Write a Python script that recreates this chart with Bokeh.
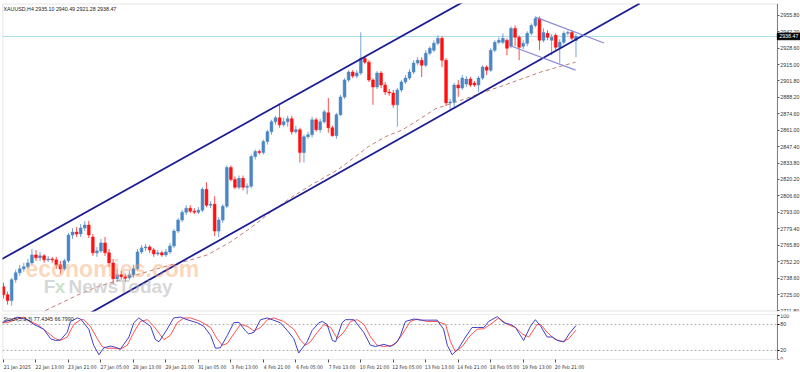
from bokeh.plotting import figure
from bokeh.layouts import column
from bokeh.models import Range1d, FixedTicker, Label, Span, PrintfTickFormatter, BoxAnnotation
from bokeh.core.properties import value
from bokeh.embed import file_html
from bokeh.resources import INLINE

# ---- XAUUSD H4 candles ----
opens = [2731.5, 2724.9, 2720.0, 2737.3, 2743.0, 2746.3, 2748.0, 2751.2, 2757.8, 2755.4,
         2757.0, 2753.7, 2754.5, 2753.7, 2749.6, 2746.3, 2752.9, 2774.2, 2776.7, 2775.1,
         2780.0, 2782.5, 2772.6, 2759.5, 2761.1, 2767.7, 2759.5, 2751.2, 2738.1, 2741.4,
         2739.7, 2738.9, 2741.4, 2746.3, 2760.3, 2763.6, 2764.4, 2761.9, 2758.6, 2759.5,
         2757.8, 2760.3, 2765.2, 2777.5, 2786.6, 2793.1, 2796.4, 2794.0, 2793.1, 2794.8,
         2812.0, 2798.9, 2799.7, 2777.5, 2786.6, 2798.1, 2830.1, 2820.2, 2813.7, 2821.1,
         2813.7, 2814.5, 2839.1, 2843.3, 2842.4, 2851.5, 2859.7, 2867.9, 2871.2, 2865.4,
         2867.9, 2870.4, 2859.7, 2861.3, 2842.4, 2855.6, 2857.2, 2869.5, 2861.3, 2867.9,
         2875.3, 2863.0, 2856.4, 2873.7, 2888.4, 2902.4, 2909.0, 2905.7, 2908.2, 2920.5,
         2917.2, 2902.4, 2896.7, 2908.2, 2898.3, 2892.5, 2891.7, 2881.9, 2894.2, 2900.8,
         2904.0, 2909.0, 2916.4, 2918.8, 2914.7, 2924.6, 2927.0, 2932.8, 2936.9, 2918.8,
         2883.5, 2884.3, 2898.3, 2895.8, 2899.1, 2903.2, 2899.9, 2898.3, 2904.0, 2913.1,
         2910.6, 2927.0, 2933.6, 2933.6, 2935.3, 2930.3, 2945.1, 2937.7, 2930.3, 2932.8,
         2941.0, 2947.6, 2953.3, 2935.3, 2941.0, 2935.3, 2939.4, 2929.5, 2933.6, 2941.0,
         2941.8, 2935.10]
highs = [2734.8, 2727.4, 2738.9, 2745.5, 2749.6, 2751.2, 2754.5, 2762.7, 2761.9, 2760.3,
         2758.6, 2757.0, 2756.2, 2756.2, 2752.9, 2754.5, 2775.9, 2780.0, 2780.8, 2783.3,
         2785.8, 2785.8, 2775.1, 2764.4, 2771.0, 2772.6, 2762.7, 2754.5, 2746.3, 2744.7,
         2742.2, 2744.7, 2749.6, 2762.7, 2766.0, 2766.9, 2766.0, 2763.6, 2761.9, 2761.1,
         2762.7, 2767.7, 2779.2, 2788.2, 2794.8, 2798.9, 2798.9, 2796.4, 2797.3, 2813.7,
         2817.8, 2802.2, 2806.3, 2789.0, 2799.7, 2831.8, 2831.8, 2822.7, 2823.5, 2823.5,
         2817.0, 2840.8, 2844.9, 2844.9, 2853.1, 2861.3, 2869.5, 2872.8, 2881.9, 2871.2,
         2872.8, 2872.8, 2864.6, 2863.0, 2857.2, 2859.7, 2872.0, 2871.2, 2870.4, 2877.8,
         2887.6, 2864.6, 2875.3, 2890.1, 2904.0, 2910.6, 2910.6, 2910.6, 2941.8, 2922.1,
         2918.8, 2904.0, 2909.8, 2909.8, 2900.8, 2895.0, 2894.2, 2895.8, 2902.4, 2906.5,
         2911.4, 2918.8, 2921.3, 2921.3, 2927.0, 2930.3, 2935.3, 2939.4, 2938.5, 2920.5,
         2886.8, 2899.9, 2902.4, 2906.5, 2905.7, 2904.9, 2901.6, 2905.7, 2914.7, 2914.7,
         2928.7, 2935.3, 2937.7, 2941.0, 2936.9, 2946.8, 2947.6, 2939.4, 2935.3, 2942.7,
         2949.2, 2955.0, 2955.0, 2945.1, 2943.5, 2940.2, 2941.0, 2936.1, 2942.7, 2943.5,
         2943.5, 2940.49]
lows = [2721.7, 2716.7, 2715.9, 2734.8, 2740.6, 2743.9, 2746.3, 2749.6, 2752.9, 2752.9,
        2751.2, 2752.1, 2751.2, 2746.3, 2742.2, 2744.7, 2751.2, 2771.0, 2772.6, 2772.6,
        2777.5, 2771.8, 2757.0, 2756.2, 2759.5, 2757.0, 2748.0, 2734.0, 2735.6, 2737.3,
        2735.6, 2737.3, 2738.9, 2744.7, 2758.6, 2761.1, 2759.5, 2756.2, 2757.0, 2756.2,
        2756.2, 2758.6, 2763.6, 2775.9, 2784.9, 2790.7, 2792.3, 2791.5, 2791.5, 2793.1,
        2797.3, 2796.4, 2773.4, 2772.6, 2784.1, 2796.4, 2818.6, 2812.0, 2812.0, 2811.2,
        2807.9, 2812.9, 2836.7, 2840.8, 2840.8, 2849.0, 2857.2, 2865.4, 2863.0, 2863.8,
        2863.8, 2857.2, 2858.0, 2834.2, 2834.2, 2853.9, 2854.8, 2859.7, 2858.9, 2866.3,
        2858.9, 2855.6, 2853.9, 2872.8, 2886.8, 2900.8, 2904.0, 2904.0, 2906.5, 2915.5,
        2900.8, 2881.9, 2895.0, 2895.8, 2890.1, 2889.3, 2879.4, 2863.8, 2892.5, 2899.1,
        2902.4, 2907.3, 2914.7, 2904.9, 2913.1, 2922.9, 2925.4, 2931.2, 2913.1, 2881.0,
        2877.8, 2879.4, 2888.4, 2894.2, 2896.7, 2896.7, 2896.7, 2892.5, 2902.4, 2906.5,
        2909.0, 2925.4, 2932.0, 2932.0, 2922.9, 2928.7, 2930.3, 2918.8, 2927.9, 2930.3,
        2939.4, 2945.9, 2927.0, 2933.6, 2935.3, 2922.9, 2927.0, 2916.4, 2932.0, 2939.4,
        2935.3, 2921.28]
closes = [2724.9, 2720.0, 2737.3, 2743.0, 2746.3, 2748.0, 2751.2, 2757.8, 2755.4, 2757.0,
          2753.7, 2754.5, 2753.7, 2749.6, 2746.3, 2752.9, 2774.2, 2776.7, 2775.1, 2780.0,
          2782.5, 2774.2, 2759.5, 2761.1, 2767.7, 2759.5, 2751.2, 2738.1, 2741.4, 2739.7,
          2738.9, 2741.4, 2746.3, 2760.3, 2763.6, 2764.4, 2761.9, 2758.6, 2759.5, 2757.8,
          2760.3, 2765.2, 2777.5, 2786.6, 2793.1, 2796.4, 2794.0, 2793.1, 2794.8, 2812.0,
          2798.9, 2799.7, 2777.5, 2786.6, 2798.1, 2830.1, 2820.2, 2813.7, 2821.1, 2813.7,
          2814.5, 2839.1, 2843.3, 2842.4, 2851.5, 2859.7, 2867.9, 2871.2, 2865.4, 2867.9,
          2870.4, 2859.7, 2861.3, 2842.4, 2855.6, 2857.2, 2869.5, 2861.3, 2867.9, 2876.1,
          2863.0, 2856.4, 2873.7, 2888.4, 2902.4, 2909.0, 2905.7, 2908.2, 2920.5, 2917.2,
          2902.4, 2896.7, 2908.2, 2898.3, 2892.5, 2891.7, 2881.9, 2894.2, 2900.8, 2904.0,
          2909.0, 2916.4, 2918.8, 2914.7, 2924.6, 2928.7, 2932.8, 2936.9, 2918.8, 2883.5,
          2884.3, 2898.3, 2895.8, 2904.0, 2903.2, 2898.3, 2898.3, 2904.0, 2913.1, 2910.6,
          2927.0, 2933.6, 2935.3, 2936.9, 2928.7, 2945.1, 2937.7, 2929.5, 2932.8, 2941.0,
          2947.6, 2953.3, 2935.3, 2941.8, 2937.7, 2937.7, 2929.5, 2933.6, 2941.0, 2941.8,
          2936.9, 2938.47]

# moving average (dashed), read points: bar index, price
ma_x = [10.3, 19.0, 23.2, 28.1, 32.0, 36.2, 40.4, 45.3, 50.2, 55.9, 60.8, 65.8, 70.2,
        75.6, 82.5, 89.9, 94.1, 98.3, 102.2, 106.4, 115.8, 124.1, 132.3, 136.5, 140.9]
ma_y = [2711.8, 2725.8, 2731.5, 2736.5, 2740.6, 2744.7, 2748.8, 2752.9, 2757.8, 2768.5,
        2780.0, 2793.1, 2803.8, 2815.3, 2828.5, 2847.4, 2855.6, 2861.3, 2869.5, 2878.6,
        2889.3, 2899.1, 2909.0, 2913.1, 2917.2]

# trend channel and wedge lines (endpoints: bar index, price)
chan_up_x, chan_up_y = [-0.74, 113.8], [2753.7, 2968.1]
chan_lo_x, chan_lo_y = [21.4, 156.7], [2709.8, 2965.7]
wedge_up_x, wedge_up_y = [131.0, 147.9], [2954.4, 2933.0]
wedge_lo_x, wedge_lo_y = [124.5, 140.9], [2931.2, 2910.6]
last_price = 2938.47

price_ticks = [2955.80, 2942.20, 2928.60, 2915.00, 2901.80, 2888.20, 2874.60, 2861.00,
               2847.40, 2833.80, 2820.20, 2806.60, 2793.00, 2779.40, 2765.80, 2752.20,
               2738.60, 2725.00, 2711.80]

date_ticks = [0, 8, 16, 24, 32, 40, 48, 56, 64, 72, 80, 88, 96, 104, 112, 120, 128, 136]
date_labels = ["21 Jan 2025", "22 Jan 13:00", "23 Jan 21:00", "27 Jan 05:00", "28 Jan 13:00",
               "29 Jan 21:00", "31 Jan 05:00", "3 Feb 13:00", "4 Feb 21:00", "6 Feb 05:00",
               "7 Feb 13:00", "10 Feb 21:00", "12 Feb 05:00", "13 Feb 13:00", "14 Feb 21:00",
               "18 Feb 05:00", "19 Feb 13:00", "20 Feb 21:00"]

# Stochastic (5,3,3) read points
k_x = [-0.7, 1.7, 3.4, 5.8, 7.5, 9.9, 11.6, 12.8, 14.0, 15.7, 16.5, 18.2, 19.0, 21.0, 22.2,
       23.5, 24.7, 26.4, 27.6, 28.8, 30.9, 32.1, 33.3, 36.2, 37.4, 38.3, 40.3, 41.9, 43.6,
       45.2, 47.7, 49.3, 51.0, 52.2, 53.4, 55.1, 56.7, 58.0, 59.6, 60.4, 61.7, 63.3, 65.0,
       68.2, 69.9, 71.5, 72.7, 74.8, 76.0, 77.7, 78.5, 79.7, 81.0, 81.8, 83.4, 84.2, 86.3,
       88.7, 90.4, 91.6, 93.7, 95.3, 97.0, 97.8, 99.0, 101.1, 102.7, 104.4, 106.8, 108.4,
       109.3, 110.5, 112.1, 113.8, 115.4, 116.7, 118.3, 119.5, 121.6, 123.2, 124.9, 126.1,
       127.3, 128.1, 129.8, 131.0, 132.3, 133.9, 135.2, 136.4, 138.1, 139.3, 141.0]
k_v = [84, 90, 97, 91, 80, 69, 47, 43, 44, 62, 87, 95, 92.5, 69, 32,
       10, 26, 30, 27, 23, 51, 84, 95, 76, 45, 40, 69, 95, 97,
       91, 84, 76, 55, 25, 26, 54, 84, 85, 65, 58, 62, 91, 95,
       84, 66, 47, 14, 40, 66, 84, 87, 80, 43, 40, 84, 91, 91,
       62, 32, 29, 34, 29, 40, 55, 87, 92.5, 90, 90, 90, 69,
       32, 10, 25, 51, 73, 73, 73, 87, 98, 84, 80, 73,
       55, 43, 76, 91, 76, 51, 51, 43, 40, 58, 77.4345]
d_x = [-0.7, 0.9, 3.4, 5.0, 6.6, 8.3, 10.8, 12.8, 14.0, 15.7, 17.3, 19.0, 19.8, 21.4, 23.1,
       24.3, 25.5, 27.2, 28.8, 30.5, 32.1, 33.7, 35.4, 37.0, 38.7, 39.5, 41.1, 42.8, 44.4,
       46.1, 48.5, 51.0, 52.6, 53.9, 55.1, 56.7, 58.4, 60.0, 61.7, 63.3, 65.0, 66.6, 69.0,
       71.5, 73.2, 74.4, 75.6, 77.3, 78.9, 80.6, 82.2, 83.8, 85.5, 87.1, 88.8, 90.4, 92.0,
       93.7, 96.1, 97.8, 100.2, 101.9, 104.3, 106.8, 108.9, 110.1, 111.3, 113.0, 115.0,
       116.7, 118.3, 119.9, 122.0, 124.1, 126.1, 127.8, 129.4, 131.4, 132.3, 133.9, 135.6,
       137.6, 139.2, 141.0]
d_v = [84, 84, 92.5, 97, 87, 80, 62, 47, 43, 51, 80, 91, 91, 76, 47,
       29, 25, 25, 23, 32, 62, 87, 91, 76, 55, 45, 55, 84, 95,
       95, 87, 73, 47, 32, 36, 58, 80, 76, 65, 73, 91, 95, 87,
       69, 43, 32, 40, 62, 80, 73, 47, 62, 87, 91, 80, 51, 32,
       29, 32, 51, 87, 92.5, 87, 87, 80, 40, 17, 29, 55,
       69, 70, 80, 95, 80, 73, 58, 51, 80, 80, 62, 47,
       40, 47, 66.799]

FONT = "Liberation Sans"
NARROW = "'Liberation Sans Narrow', 'DejaVu Sans Condensed', 'Liberation Sans', sans-serif"
AX_COLOR = "#333333"
FRAME_COLOR = "#808080"
BLUE = "#4a86c3"
RED = "#ff1010"
FRAME_W = 798            # frame covers the chart area plus the price-scale strip
X0, X_EDGE, X1 = -0.25, 190.6, 196.3   # chart left edge, chart right edge (price scale), strip end
Y0, Y1 = 2711.0, 2965.7

idx = list(range(len(closes)))
colors = [BLUE if c >= o else RED for o, c in zip(opens, closes)]
tops = [max(o, c) for o, c in zip(opens, closes)]
bots = [min(o, c) for o, c in zip(opens, closes)]

x_range = Range1d(X0, X1)

p = figure(frame_width=FRAME_W, frame_height=308, x_range=x_range,
           y_range=Range1d(Y0, Y1), output_backend="svg", toolbar_location=None,
           x_axis_location=None, y_axis_location="right",
           min_border_left=2, min_border_top=3, min_border_bottom=1, min_border_right=0)
p.grid.visible = False
p.outline_line_color = None
p.background_fill_color = "white"
p.border_fill_color = "white"
p.add_layout(BoxAnnotation(left=X0 + 0.05, right=X_EDGE, bottom=Y0 + 0.3, top=Y1 - 0.3,
                           fill_alpha=0, line_color=FRAME_COLOR, line_width=1))

ya = p.yaxis[0]
ya.fixed_location = X_EDGE
ya.ticker = FixedTicker(ticks=price_ticks)
ya.formatter = PrintfTickFormatter(format="%.2f")
ya.major_label_text_font = FONT
ya.major_label_text_font_size = "5.3px"
ya.major_label_text_color = AX_COLOR
ya.major_tick_in = 0
ya.major_tick_out = 2
ya.major_tick_line_color = "#555555"
ya.minor_tick_line_color = None
ya.axis_line_color = FRAME_COLOR
ya.major_label_standoff = 1

# watermark
p.add_layout(Label(x=5.4, y=2746.3, text="economies.com", text_font=FONT,
                   text_font_size="23px", text_font_style="bold", text_color="#f7a46c",
                   text_alpha=0.45, text_baseline="alphabetic"))
p.add_layout(Label(x=9.9, y=2731.5, text="F", text_font=FONT, text_font_size="19px",
                   text_font_style="bold", text_color="#b4b4b4", text_alpha=0.55,
                   text_baseline="alphabetic"))
p.add_layout(Label(x=12.6, y=2731.5, text="x", text_font=FONT, text_font_size="19px",
                   text_font_style="bold", text_color="#98cc98", text_alpha=0.55,
                   text_baseline="alphabetic"))
p.add_layout(Label(x=16.0, y=2731.5, text="NewsToday", text_font=FONT, text_font_size="19px",
                   text_font_style="bold", text_color="#b4b4b4", text_alpha=0.55,
                   text_baseline="alphabetic"))

# last price line (chart area only)
p.line([X0, X_EDGE], [last_price, last_price], line_color="#a8dcec", line_width=1)

# moving average
p.line(ma_x, ma_y, line_color="#c08078", line_width=1, line_dash="4 3")

# candles
p.segment(x0=idx, y0=lows, x1=idx, y1=highs, line_color=colors, line_width=1, line_alpha=0.75)
p.vbar(x=idx, width=0.7, top=tops, bottom=bots, fill_color=colors, line_color=colors, line_width=0.5)

# trend lines (clipped to the chart area)
def clip_line(xs, ys):
    (xa, xb), (ya_, yb) = xs, ys
    if xb > X_EDGE:
        yb = ya_ + (yb - ya_) * (X_EDGE - xa) / (xb - xa)
        xb = X_EDGE
    return [xa, xb], [ya_, yb]

for xs, ys, col, w in [(chan_up_x, chan_up_y, "#1c1c94", 1.8), (chan_lo_x, chan_lo_y, "#1c1c94", 1.8),
                       (wedge_up_x, wedge_up_y, "#8a8ad8", 1.2), (wedge_lo_x, wedge_lo_y, "#8a8ad8", 1.2)]:
    cx, cy = clip_line(xs, ys)
    p.line(cx, cy, line_color=col, line_width=w)

p.add_layout(Label(x=0, y=2961.5, text="XAUUSD,H4  2935.10 2940.49 2921.28 2938.47",
                   text_font=FONT, text_font_size="5.3px", text_color="#222222",
                   text_baseline="middle"))

# price tag on the price scale
p.quad(left=[X_EDGE], right=[X1], bottom=[last_price - 2.7], top=[last_price + 2.7],
       fill_color="black", line_color="black", level="overlay")
p.text(x=[X_EDGE + 0.45], y=[last_price], text=["2938.47"], text_color="white",
       text_font=value(FONT), text_font_size="5.3px", text_baseline="middle",
       level="overlay")

# ---- stochastic panel ----
s = figure(frame_width=FRAME_W, frame_height=45, x_range=x_range, y_range=Range1d(-1, 103),
           output_backend="svg", toolbar_location=None, y_axis_location="right",
           min_border_left=2, min_border_top=2, min_border_bottom=0, min_border_right=0)
s.grid.visible = False
s.outline_line_color = None
s.add_layout(BoxAnnotation(left=X0 + 0.05, right=X_EDGE, bottom=-0.9, top=102.9,
                           fill_alpha=0, line_color=FRAME_COLOR, line_width=1))
s.line([X0, X_EDGE], [80, 80], line_color="#b0b0b0", line_dash="2 2", line_width=1)
s.line([X0, X_EDGE], [20, 20], line_color="#b0b0b0", line_dash="2 2", line_width=1)
s.line(d_x, d_v, line_color="#ff5050", line_width=1)
s.line(k_x, k_v, line_color="#4040c8", line_width=1)
s.add_layout(Label(x=0, y=92, text="Stoch(5,3,3) 77.4345 66.7990", text_font=FONT,
                   text_font_size="5.3px", text_color="#222222", text_baseline="middle"))

sy = s.yaxis[0]
sy.fixed_location = X_EDGE
sy.ticker = FixedTicker(ticks=[0, 20, 80, 100])
sy.major_label_text_font = FONT
sy.major_label_text_font_size = "5.3px"
sy.major_label_text_color = AX_COLOR
sy.major_tick_in = 0
sy.major_tick_out = 2
sy.minor_tick_line_color = None
sy.axis_line_color = FRAME_COLOR
sy.major_label_standoff = 1

# date labels sit to the right of their tick (labels centred ~3.4 bars after the tick)
label_centres = [t + 3.4 for t in date_ticks]
sx = s.xaxis[0]
sx.ticker = FixedTicker(ticks=label_centres, minor_ticks=date_ticks)
sx.major_label_overrides = {c: l for c, l in zip(label_centres, date_labels)}
sx.major_label_text_font = NARROW
sx.major_label_text_font_size = "5px"
sx.major_label_text_color = AX_COLOR
sx.major_tick_line_color = None
sx.major_tick_in = 0
sx.major_tick_out = 3
sx.minor_tick_in = 0
sx.minor_tick_out = 3
sx.minor_tick_line_color = "#555555"
sx.axis_line_color = None
sx.major_label_standoff = 1

layout = column(p, s, spacing=0)
open("out.html", "w").write(file_html(layout, INLINE))
